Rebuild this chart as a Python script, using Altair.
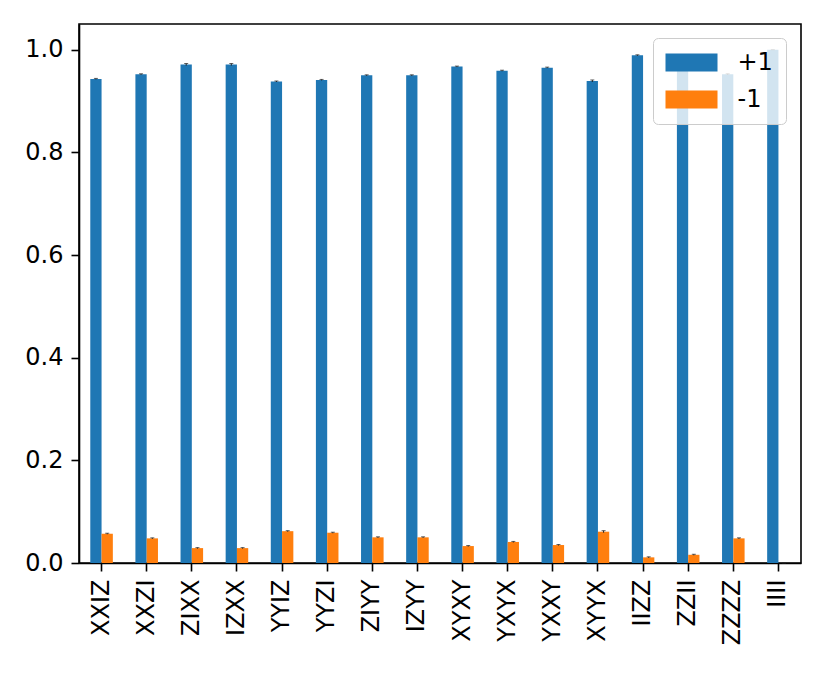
import altair as alt
import pandas as pd

labels = ["XXIZ", "XXZI", "ZIXX", "IZXX", "YYIZ", "YYZI", "ZIYY", "IZYY",
          "XYXY", "YXYX", "YXXY", "XYYX", "IIZZ", "ZZII", "ZZZZ", "IIII"]
plus = [0.943, 0.952, 0.971, 0.971, 0.938, 0.941, 0.950, 0.950,
        0.967, 0.959, 0.965, 0.939, 0.989, 0.984, 0.952, 1.000]
minus = [0.057, 0.048, 0.029, 0.029, 0.062, 0.059, 0.050, 0.050,
         0.033, 0.041, 0.035, 0.061, 0.011, 0.016, 0.048, 0.000]
plus_err = [0.001, 0.001, 0.002, 0.002, 0.001, 0.001, 0.001, 0.001,
            0.001, 0.001, 0.001, 0.002, 0.001, 0.001, 0.001, 0.000]
minus_err = [0.001, 0.001, 0.001, 0.001, 0.001, 0.001, 0.001, 0.001,
             0.001, 0.001, 0.001, 0.002, 0.001, 0.001, 0.001, 0.000]
series = ["+1", "-1"]
colors = ["#1f77b4", "#ff7f0e"]

rows = []
for i, lab in enumerate(labels):
    for s, vals, errs in (("+1", plus, plus_err), ("-1", minus, minus_err)):
        rows.append({"label": lab, "series": s, "value": vals[i],
                     "lo": vals[i] - errs[i], "hi": vals[i] + errs[i]})
df = pd.DataFrame(rows)

FONT = "DejaVu Sans"
FS = 24

x_enc = alt.X("label:N", sort=labels,
              scale=alt.Scale(paddingInner=0.5, paddingOuter=0.25),
              axis=alt.Axis(title=None, labelAngle=-90, labelFontSize=FS,
                            labelFont=FONT, labelColor="black", tickColor="black",
                            tickSize=8, tickWidth=1.6, labelPadding=8,
                            domainColor="black", domainWidth=1.6))
xo_enc = alt.XOffset("series:N", sort=series,
                     scale=alt.Scale(paddingInner=0, paddingOuter=0))

base = alt.Chart(df)

bars = base.mark_bar().encode(
    x=x_enc,
    xOffset=xo_enc,
    y=alt.Y("value:Q", scale=alt.Scale(domain=[0, 1.05], nice=False),
            axis=alt.Axis(title=None, values=[0, 0.2, 0.4, 0.6, 0.8, 1.0],
                          format=".1f", labelFontSize=FS, labelFont=FONT,
                          labelColor="black", tickColor="black", tickSize=8,
                          tickWidth=1.6, labelPadding=8, domainColor="black",
                          domainWidth=1.6, grid=False)),
    color=alt.Color("series:N",
                    scale=alt.Scale(domain=series, range=colors),
                    legend=alt.Legend(
                        title=None, orient="none", legendX=574, legendY=14,
                        symbolType="M-2.1667,-0.75H2.1667V0.75H-2.1667Z",
                        symbolSize=576, symbolOffset=14,
                        symbolStrokeWidth=0, symbolOpacity=1,
                        labelFontSize=FS, labelFont=FONT, labelColor="black",
                        labelOffset=34, rowPadding=13, padding=12.5,
                        fillColor="rgba(255,255,255,0.8)", strokeColor="#cccccc",
                        cornerRadius=5)),
)

err = base.mark_rule(color="#222222", strokeWidth=1).encode(
    x=x_enc, xOffset=xo_enc, y="lo:Q", y2="hi:Q")

caps = base.mark_tick(color="#222222", thickness=1, size=4).encode(
    x=x_enc, xOffset=xo_enc, y="hi:Q")

chart = alt.layer(bars, err, caps).properties(
    width=722, height=539,
    autosize=alt.AutoSizeParams(type="none"),
    padding={"left": 71, "top": 16, "right": 14, "bottom": 100},
    background="white",
).configure_view(stroke="black", strokeWidth=1.6)

chart.save("out.html", embed_options={"renderer": "svg", "actions": False})
